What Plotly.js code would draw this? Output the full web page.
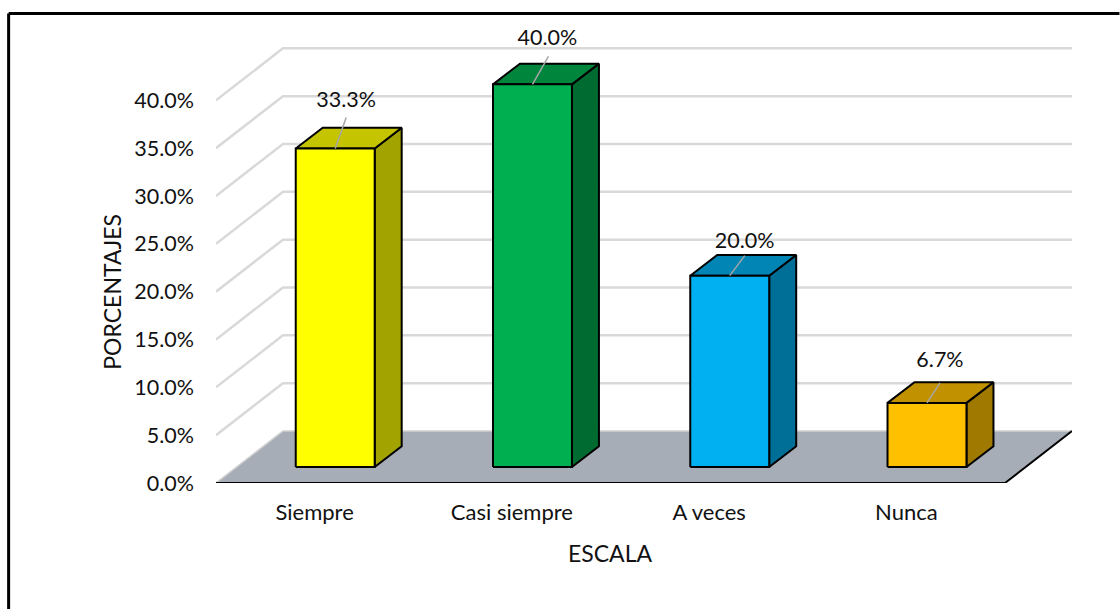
<!DOCTYPE html>
<html>
<head>
<meta charset="utf-8">
<script src="https://cdn.plot.ly/plotly-3.0.1.min.js"></script>
<style>html,body{margin:0;padding:0;background:#fff}#chart{width:1120px;height:609px}</style>
</head>
<body>
<div id="chart"></div>
<script>
// Data
var categories = ['Siempre', 'Casi siempre', 'A veces', 'Nunca'];
var percentages = [33.3, 40.0, 20.0, 6.7];
var percentTicks = [0, 5, 10, 15, 20, 25, 30, 35, 40];

// Colours
var frontColors = ['#FFFF00', '#00B050', '#00B0F0', '#FFC000'];
var topColors = ['#C4C400', '#00853C', '#0085B5', '#C29100'];
var sideColors = ['#A3A300', '#006B30', '#006F98', '#A07900'];

// Plot geometry (pixels)
var W = 1120, H = 609;
var frontL = 216, frontR = 1005.5, frontB = 482.7, slopePxY = 9.56, wallPxX = 67, wallPxY = 52, plotTop = 16;
var m = {l: frontL, r: W - frontR - wallPxX, b: H - frontB, t: plotTop};
var pxX = (frontR - frontL) / categories.length;
var pxY = slopePxY;
function ux(px) { return px / pxX; }
function uy(px) { return px / pxY; }

var wallDX = ux(wallPxX), wallDY = uy(wallPxY);
var barW = ux(79), barOff = ux(20.6), barDX = ux(27), barDY = uy(20.7), barBase = uy(16);
var leaderPx = [[11, -31], [16, -28], [15, -20], [13, -20]];
var labelPx = [[11, -46.5], [15, -44.5], [15, -33.5], [13, -41]];

var x0 = -0.5, x1 = categories.length - 0.5;
var traces = [];
function poly(xs, ys, fill, lineColor, lw) {
  traces.push({type: 'scatter', mode: 'lines', x: xs, y: ys, fill: 'toself', fillcolor: fill,
    line: {color: lineColor, width: lw, shape: 'linear'}, hoverinfo: 'skip', showlegend: false, cliponaxis: false});
}
function seg(xs, ys, color, lw) {
  traces.push({type: 'scatter', mode: 'lines', x: xs, y: ys,
    line: {color: color, width: lw}, hoverinfo: 'skip', showlegend: false, cliponaxis: false});
}

// Gridlines on side wall and back wall
percentTicks.forEach(function (t) {
  if (t === 0) return;
  seg([x0, x0 + wallDX, x1 + wallDX], [t, t + wallDY, t + wallDY], '#D9D9D9', 2.5);
});
// Floor
poly([x0, x0 + wallDX, x1 + wallDX, x1, x0], [0, wallDY, wallDY, 0, 0], '#A6ADB7', 'rgba(0,0,0,0)', 0);
seg([x0, x0 + wallDX, x1 + wallDX], [0, wallDY, wallDY], '#D0D0D0', 1.5);
seg([x0, x1, x1 + wallDX], [0, 0, wallDY], '#000000', 2);

// Bars
percentages.forEach(function (v, i) {
  var l = i + barOff - barW / 2, r = l + barW, b = barBase, t = barBase + v;
  poly([r, r + barDX, r + barDX, r, r], [b, b + barDY, t + barDY, t, b], sideColors[i], '#000', 2);
  poly([l, l + barDX, r + barDX, r, l], [t, t + barDY, t + barDY, t, t], topColors[i], '#000', 2);
  poly([l, r, r, l, l], [b, b, t, t, b], frontColors[i], '#000', 2);
});

// Leader lines and data labels
percentages.forEach(function (v, i) {
  var cx = i + barOff, cy = barBase + v;
  seg([cx, cx + ux(leaderPx[i][0])], [cy, cy - uy(leaderPx[i][1])], '#A6A6A6', 1.5);
});
var labelFont = {family: 'Lato, sans-serif', size: 21.5, color: '#111'};
traces.push({
  type: 'scatter', mode: 'text',
  x: percentages.map(function (v, i) { return i + barOff + ux(labelPx[i][0]); }),
  y: percentages.map(function (v, i) { return barBase + v - uy(labelPx[i][1]); }),
  text: percentages.map(function (v) { return v.toFixed(1) + '%'; }),
  textposition: 'middle center',
  textfont: labelFont,
  hoverinfo: 'skip', showlegend: false, cliponaxis: false
});

var catFont = {family: 'Lato, sans-serif', size: 22, color: '#111'};
var titleFont = {family: 'Lato, sans-serif', size: 23, color: '#111'};
var plotW = W - m.l - m.r, plotH = H - m.t - m.b;
var layout = {
  width: W, height: H, margin: m, showlegend: false,
  paper_bgcolor: '#fff', plot_bgcolor: 'rgba(0,0,0,0)', font: labelFont,
  xaxis: {
    range: [x0, x1 + wallDX], tickmode: 'array', tickvals: categories.map(function (c, i) { return i; }), ticktext: categories,
    showgrid: false, zeroline: false, showline: false, ticks: '', ticklabelstandoff: 14, tickfont: catFont, fixedrange: true
  },
  yaxis: {
    range: [0, uy(frontB - plotTop)], tickmode: 'array', tickvals: percentTicks,
    ticktext: percentTicks.map(function (t) { return t.toFixed(1) + '%'; }),
    showgrid: false, zeroline: false, showline: false, ticks: '', ticklabelstandoff: 21, tickfont: labelFont, fixedrange: true
  },
  annotations: [
    {text: 'ESCALA', xref: 'x', yref: 'paper', x: (x0 + x1) / 2, y: -(553 - frontB) / plotH, showarrow: false, font: titleFont, xanchor: 'center', yanchor: 'middle'},
    {text: 'PORCENTAJES', xref: 'paper', yref: 'y', x: (112 - m.l) / plotW, y: 20, showarrow: false, font: titleFont, textangle: -90, xanchor: 'center', yanchor: 'middle'}
  ],
  shapes: [
    {type: 'line', xref: 'paper', yref: 'paper', layer: 'above',
     x0: (8.5 - m.l) / plotW, x1: (W - m.l) / plotW,
     y0: 1 + (m.t - 13.5) / plotH, y1: 1 + (m.t - 13.5) / plotH, line: {color: '#000', width: 3}},
    {type: 'line', xref: 'paper', yref: 'paper', layer: 'above',
     x0: (8.5 - m.l) / plotW, x1: (8.5 - m.l) / plotW,
     y0: 1 + (m.t - 13.5) / plotH, y1: -m.b / plotH, line: {color: '#000', width: 3}}
  ]
};
Plotly.newPlot('chart', traces, layout, {displayModeBar: false, staticPlot: true});
</script>
</body>
</html>
